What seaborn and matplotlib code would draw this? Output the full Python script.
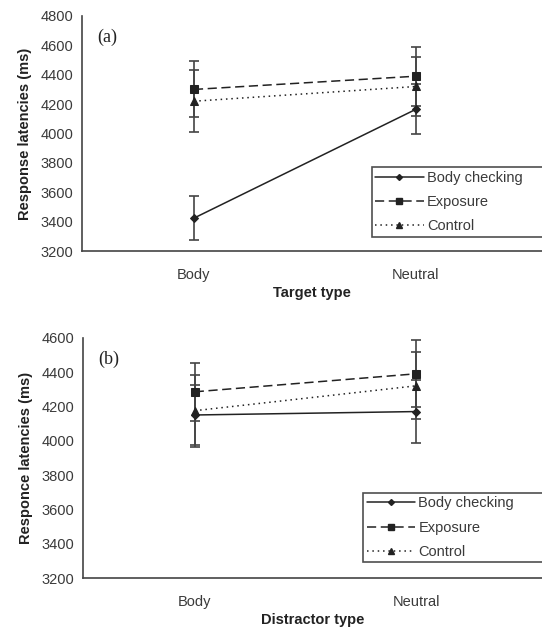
import numpy as np
import pandas as pd
import matplotlib
matplotlib.use("Agg")
import matplotlib.pyplot as plt
import seaborn as sns

groups = ["Body checking", "Exposure", "Control"]
types = ["Body", "Neutral"]

# panel (a): target type
a_means = {"Body checking": [3425, 4165], "Exposure": [4300, 4390], "Control": [4220, 4320]}
a_err = {"Body checking": [150, 170], "Exposure": [190, 200], "Control": [210, 200]}

# panel (b): distractor type
b_means = {"Body checking": [4150, 4170], "Exposure": [4285, 4390], "Control": [4175, 4320]}
b_err = {"Body checking": [175, 185], "Exposure": [170, 195], "Control": [210, 195]}

markers = {"Body checking": "D", "Exposure": "s", "Control": "^"}
msizes = {"Body checking": 4, "Exposure": 6, "Control": 6}
dashes = {"Body checking": (None, None), "Exposure": (6, 3), "Control": (1, 2.5)}

sns.set_style("white")
plt.rcParams["font.family"] = ["Liberation Sans", "DejaVu Sans"]
grey = "#3a3a3a"
line_c = "#222222"


def make_df(means):
    rows = []
    for g in groups:
        for i, t in enumerate(types):
            rows.append({"group": g, "x": i, "value": means[g][i]})
    return pd.DataFrame(rows)


def panel(ax, means, errs, ylim, yticks, ylabel, xlabel, tag, leg_xy):
    df = make_df(means)
    for g in groups:
        sub = df[df.group == g]
        ax.errorbar(sub.x, sub.value, yerr=errs[g], fmt="none", ecolor="#444444",
                    elinewidth=1.2, capsize=3.5, capthick=1.2, zorder=2)
    sns.lineplot(data=df, x="x", y="value", hue="group", style="group",
                 palette={g: line_c for g in groups}, dashes=dashes,
                 markers=markers, ax=ax, linewidth=1.1, legend=False, zorder=3)
    for line, g in zip(ax.get_lines()[-3:], groups):
        line.set_markersize(msizes[g])
        line.set_markeredgecolor(line_c)
        line.set_markerfacecolor(line_c)

    handles = []
    for g in groups:
        h, = ax.plot([], [], color=line_c, lw=1.1, marker=markers[g], ms=msizes[g] - 1,
                     linestyle="-" if g == "Body checking" else ((0, dashes[g])))
        handles.append(h)
    # legend box runs past the right edge of the figure, as in the original
    leg = ax.legend(handles, groups, loc="upper left",
                    bbox_to_anchor=(leg_xy[0], leg_xy[1] - 0.5, 0.43, 0.5),
                    mode="expand", frameon=True, fancybox=False, fontsize=10.5,
                    handlelength=3.3, handletextpad=0.25, labelspacing=0.7,
                    borderpad=0.25, borderaxespad=0)
    leg.get_frame().set_edgecolor("#222222")
    leg.get_frame().set_linewidth(1.2)
    for t in leg.get_texts():
        t.set_color(grey)

    ax.set_xlim(-0.505, 1.568)
    ax.set_ylim(*ylim)
    ax.set_yticks(yticks)
    ax.set_xticks([0, 1])
    ax.set_xticklabels(types)
    ax.set_xticks([0.5], minor=True)
    ax.tick_params(axis="x", which="major", length=0, pad=12, labelsize=10.5, colors=grey)
    ax.tick_params(axis="x", which="minor", length=4, width=1.2, direction="out", color="#444444")
    ax.tick_params(axis="y", length=4, width=1.2, direction="out", labelsize=10.5,
                   colors=grey, pad=2)
    ax.tick_params(axis="y", colors="#444444")
    for lbl in ax.get_yticklabels() + ax.get_xticklabels():
        lbl.set_color(grey)
    ax.set_xlabel(xlabel, fontsize=10.5, fontweight="bold", color="#222222", labelpad=3)
    ax.set_ylabel(ylabel, fontsize=10.5, fontweight="bold", color="#222222", labelpad=6)
    sns.despine(ax=ax)
    for s in ["left", "bottom"]:
        ax.spines[s].set_color("#444444")
        ax.spines[s].set_linewidth(1.2)
    ax.text(0.033, 0.91, tag, transform=ax.transAxes, fontsize=13,
            family="Liberation Serif", color="#222222", va="center")


fig = plt.figure(figsize=(5.42, 6.36), dpi=100)
ax1 = fig.add_axes([0.151, 0.605, 0.849, 0.370])
ax2 = fig.add_axes([0.153, 0.091, 0.847, 0.378])

panel(ax1, a_means, a_err, (3200, 4800), np.arange(3200, 4801, 200),
      "Response latencies (ms)", "Target type", "(a)", (0.63, 0.357))
panel(ax2, b_means, b_err, (3200, 4600), np.arange(3200, 4601, 200),
      "Responce latencies (ms)", "Distractor type", "(b)", (0.61, 0.355))

fig.savefig("out.png", dpi=100)
